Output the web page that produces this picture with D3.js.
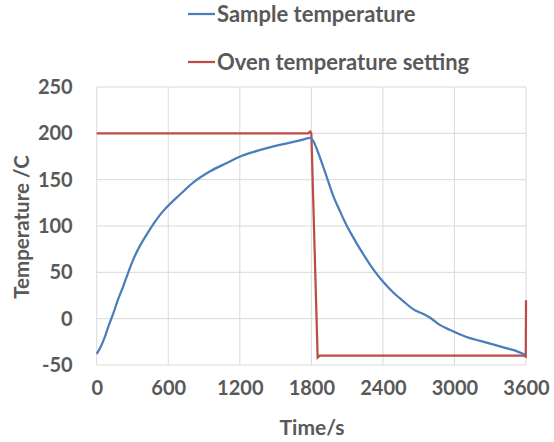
<!DOCTYPE html>
<html>
<head>
<meta charset="utf-8">
<script src="https://cdn.jsdelivr.net/npm/d3@7"></script>
<style>
  body { margin: 0; background: #fff; }
  text { font-family: Lato, "Open Sans", sans-serif; font-weight: bold; fill: #595959; }
</style>
</head>
<body>
<div class="chart"></div>
<script>
// sample temperature
const sampleTime = [0, 35, 70, 105, 140, 180, 223, 265, 307, 360, 420, 475, 531, 601, 699, 811, 951, 1091, 1203, 1343, 1482, 1622, 1720, 1790, 1815, 1846, 1880, 1916, 1985, 2040, 2098, 2150, 2209, 2321, 2400, 2489, 2570, 2656, 2740, 2796, 2880, 2960, 3048, 3130, 3216, 3330, 3440, 3520, 3594];
const sampleTemp = [-38, -30, -19, -6, 6, 21, 35, 50, 64, 78, 91, 102, 112, 122, 134, 147, 159, 168, 175, 181, 186, 190, 193, 195, 192, 183, 171, 158, 132, 116, 100, 88, 75, 53, 40, 28, 19, 10, 5, 1, -7, -12, -17, -21, -24, -28, -32, -35, -39];

// oven setting
const ovenTime = [0, 1775, 1790, 1800, 1853, 1870, 3580, 3598, 3600];
const ovenTemp = [200, 200, 202, 200, -42, -40, -40, -41, 20];

const xTicks = [0, 600, 1200, 1800, 2400, 3000, 3600];
const yTicks = [-50, 0, 50, 100, 150, 200, 250];

const legendNames = ["Sample temperature", "Oven temperature setting"];
const colors = ["#4a7ebb", "#be4b48"];

const width = 554;
const height = 442;

const svg = d3.select('.chart')
  .append('svg')
  .attr('width', width)
  .attr('height', height)

const x = d3.scaleLinear().domain([0, 3600]).range([96.7, 526])
const y = d3.scaleLinear().domain([-50, 250]).range([365, 87])

// gridlines
svg.selectAll("line.vgrid")
  .data(xTicks)
  .enter()
  .append("line")
  .attr("x1", d => x(d)).attr("x2", d => x(d))
  .attr("y1", y(250)).attr("y2", y(-50))
  .attr("stroke", "#d9d9d9")
  .attr("stroke-width", 1)

svg.selectAll("line.hgrid")
  .data(yTicks)
  .enter()
  .append("line")
  .attr("x1", x(0)).attr("x2", x(3600))
  .attr("y1", d => y(d)).attr("y2", d => y(d))
  .attr("stroke", "#d9d9d9")
  .attr("stroke-width", 1)

// axes, labels only
const xAxis = svg.append("g")
  .attr("transform", `translate(0, ${y(-50)})`)
  .call(d3.axisBottom(x).tickValues(xTicks).tickSize(0).tickPadding(24).tickFormat(d => String(d)))
xAxis.select(".domain").remove()
xAxis.selectAll("text").attr("font-size", "20px").attr("fill", "#595959").attr("dy", "0.32em")

const yAxis = svg.append("g")
  .attr("transform", `translate(${x(0)}, 0)`)
  .call(d3.axisLeft(y).tickValues(yTicks).tickSize(0).tickPadding(24).tickFormat(d => String(d)))
yAxis.select(".domain").remove()
yAxis.selectAll("text").attr("font-size", "20px").attr("fill", "#595959")

svg.selectAll("text").style("font-family", "Lato, sans-serif").style("font-weight", "bold")

svg.append("text")
  .attr("x", 312)
  .attr("y", 428)
  .attr("dy", "0.35em")
  .attr("text-anchor", "middle")
  .attr("font-size", "21px")
  .text("Time/s")

svg.append("text")
  .attr("transform", "translate(22, 227) rotate(-90)")
  .attr("dy", "0.35em")
  .attr("text-anchor", "middle")
  .attr("font-size", "20.5px")
  .text("Temperature /C")

// lines
const sampleData = sampleTime.map((t, i) => ({t: t, v: sampleTemp[i]}))
const ovenData = ovenTime.map((t, i) => ({t: t, v: ovenTemp[i]}))

const line = d3.line().x(d => x(d.t)).y(d => y(d.v))

svg.append("path")
  .datum(ovenData)
  .attr("d", line)
  .attr("fill", "none")
  .attr("stroke", colors[1])
  .attr("stroke-width", 2.25)

svg.append("path")
  .datum(sampleData)
  .attr("d", line.curve(d3.curveMonotoneX))
  .attr("fill", "none")
  .attr("stroke", colors[0])
  .attr("stroke-width", 2.25)

// legend
const legend = svg.selectAll("g.legend")
  .data(legendNames)
  .enter()
  .append("g")
  .attr("transform", (d, i) => `translate(188, ${14 + i * 48})`)

legend.append("line")
  .attr("x1", 0).attr("x2", 27)
  .attr("stroke", (d, i) => colors[i])
  .attr("stroke-width", 2.25)

legend.append("text")
  .attr("x", 29)
  .attr("dy", "0.35em")
  .attr("font-size", "22px")
  .text(d => d)
</script>
</body>
</html>
